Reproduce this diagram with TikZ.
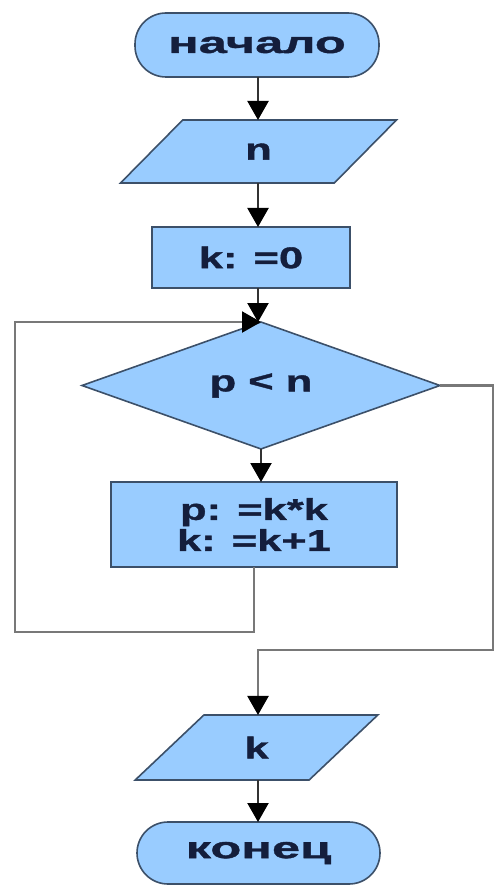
\documentclass[tikz,border=0pt]{standalone}
\usepackage{fontspec}
\setmainfont{Liberation Sans}[FakeStretch=1.45, BoldFeatures={FakeBold=1.2}]
\newfontfamily\cyrfont{Liberation Sans}[FakeStretch=1.69, BoldFeatures={FakeBold=1.2}]
\usetikzlibrary{shapes.geometric,arrows.meta,calc}
\definecolor{fillb}{RGB}{153,204,255}
\definecolor{edgeb}{RGB}{60,80,105}
\definecolor{txt}{RGB}{20,30,60}
\definecolor{linec}{RGB}{50,50,50}
\definecolor{loopc}{RGB}{120,120,120}
\begin{document}
\begin{tikzpicture}[x=1pt,y=-1pt,
 base/.style={draw=edgeb, line width=1.6pt, fill=fillb, text=txt, font=\fontsize{30}{31}\selectfont\bfseries, inner sep=0pt, outer sep=0pt, align=center},
 term/.style={base, rectangle, rounded corners=31pt, font=\fontsize{30}{31}\selectfont\cyrfont\bfseries},
 proc/.style={base, rectangle},
 io/.style={base, trapezium, trapezium stretches=true, trapezium left angle=56, trapezium right angle=124},
 cond/.style={base, diamond},
 arr/.style={draw=linec, line width=2.2pt, -{Triangle[length=19pt,width=21pt,color=black]}},
 lparr/.style={arr, draw=loopc}
]
\useasboundingbox (0,0) rectangle (497,885);
\node[term, minimum width=244pt, minimum height=64pt] (start) at (257,45) {начало};
\node[io, minimum width=277pt, minimum height=63pt] (n) at (258.5,151.5) {n};
\node[proc, minimum width=198pt, minimum height=61pt] (k0) at (251,257.5) {k: =0};
\node[cond, minimum width=358pt, minimum height=105pt] (c) at (261,385.5) {p < n};
\node[proc, minimum width=286pt, minimum height=85pt] (body) at (254,524.5) {p: =k*k\\k: =k+1};
\node[io, minimum width=243pt, minimum height=65pt, trapezium left angle=54, trapezium right angle=126] (out) at (256.5,747.5) {k};
\node[term, minimum width=243pt, minimum height=62pt] (end) at (258.5,853) {конец};
\coordinate (ax) at (258,0);
\coordinate (lb) at (15,632);
\coordinate (rb) at (493,650);
\draw[arr] (start.south -| ax) -- (n.north -| ax);
\draw[arr] (n.south -| ax) -- (k0.north -| ax);
\draw[arr] (k0.south -| ax) -- (c.north -| ax);
\draw[arr] (c.south) -- (c.south |- body.north);
\draw[lparr] (body.south) |- (lb) |- (c.north);
\draw[lparr] (c.east) -| (rb) -| (out.north -| ax);
\draw[arr] (out.south -| ax) -- (end.north -| ax);
\end{tikzpicture}
\end{document}
